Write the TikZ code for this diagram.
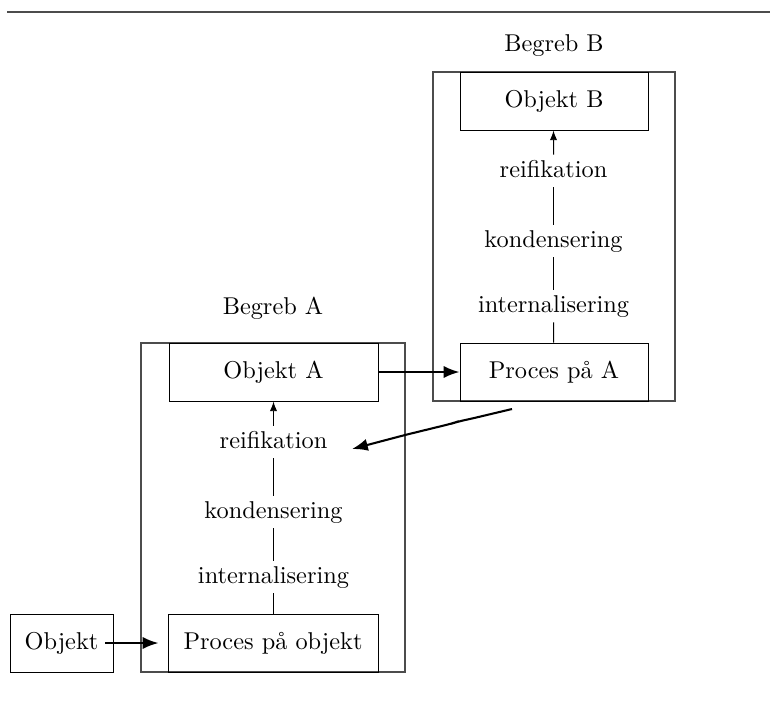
\documentclass[tikz,border=0pt]{standalone}
\usetikzlibrary{arrows.meta}
\begin{document}
\def\px{0.411pt}
\begin{tikzpicture}[x=0.411pt,y=-0.411pt,
  box/.style={draw,line width=0.4pt,inner sep=0pt,minimum height=58*\px},
  frame/.style={draw=black!70,line width=0.45pt,inner sep=0pt,minimum height=329*\px},
  stage/.style={inner sep=2pt,text height=7pt,text depth=2pt},
  heavy/.style={line width=0.85pt,-{Latex[length=6.5pt,width=5pt]}},
  light/.style={line width=0.4pt,-{Latex[length=4pt,width=3pt]}}]
\useasboundingbox (0,0) rectangle (770,725);
% rule across the top
\draw[black!70,line width=0.6pt] (7,12) -- (770,12);

% concept A
\node[frame,minimum width=264*\px] (ba) at (273,507.5) {};
\node (bal) at (273,308) {Begreb A};
\node[box,minimum width=209*\px] (oa) at (273.5,372) {Objekt A};
\node[box,minimum width=210*\px] (po) at (273,643) {Proces på objekt};
\node[stage] (ra) at (273.5,442) {reifikation};
\node[stage] (ka) at (273.5,512) {kondensering};
\node[stage] (ia) at (273.5,577) {internalisering};

% concept B
\node[frame,minimum width=242*\px] (bb) at (554,236.5) {};
\node (bbl) at (554,46) {Begreb B};
\node[box,minimum width=188*\px] (obb) at (554,101) {Objekt B};
\node[box,minimum width=188*\px] (pa) at (554,372) {Proces på A};
\node[stage] (rb) at (553.5,171) {reifikation};
\node[stage] (kb) at (553.5,241) {kondensering};
\node[stage] (ib) at (553.5,306) {internalisering};

% plain object
\node[box,minimum width=103*\px] (ob) at (61.5,643) {Objekt};

% chain inside A
\draw ([xshift=0.5*\px]po.north) -- (ia);
\draw (ia) -- (ka);
\draw (ka) -- (ra);
\draw[light] (ra) -- (oa.south);

% chain inside B
\draw ([xshift=-0.5*\px]pa.north) -- (ib);
\draw (ib) -- (kb);
\draw (kb) -- (rb);
\draw[light] (rb) -- ([xshift=-0.5*\px]obb.south);

% transitions
\draw[heavy] (oa) -- (pa);
\draw[heavy] ([xshift=-8*\px]ob.east) -- ([xshift=-9*\px]po.west);
\coordinate (w0) at (512,409);
\coordinate (w1) at (352,449);
\draw[heavy,rounded corners=3pt] (w0) -- (470,419) -- (458,421.5) -- (452,423.5) -- (405,435) -- (w1);
\end{tikzpicture}
\end{document}
